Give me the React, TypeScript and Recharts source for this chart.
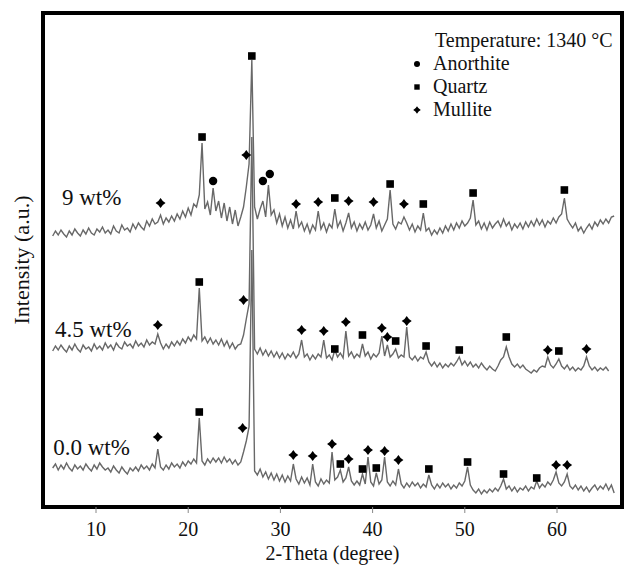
import { ComposedChart, Line, Scatter, XAxis, YAxis, ReferenceArea } from "recharts";

// 2-theta grid (degrees)
const twoTheta = [
  5.3, 5.6, 5.9, 6.2, 6.5, 6.8, 7.1, 7.4, 7.7, 8.0,
  8.3, 8.6, 8.9, 9.2, 9.5, 9.8, 10.1, 10.4, 10.7, 11.0,
  11.3, 11.6, 11.9, 12.2, 12.5, 12.8, 13.1, 13.4, 13.7, 14.0,
  14.3, 14.6, 14.9, 15.2, 15.5, 15.8, 16.1, 16.4, 16.7, 17.0,
  17.3, 17.6, 17.9, 18.2, 18.5, 18.8, 19.1, 19.4, 19.7, 20.0,
  20.3, 20.6, 20.9, 21.2, 21.5, 21.8, 22.1, 22.4, 22.7, 23.0,
  23.3, 23.6, 23.9, 24.2, 24.5, 24.8, 25.1, 25.4, 25.7, 26.0,
  26.3, 26.6, 26.9, 27.2, 27.5, 27.8, 28.1, 28.4, 28.7, 29.0,
  29.3, 29.6, 29.9, 30.2, 30.5, 30.8, 31.1, 31.4, 31.7, 32.0,
  32.3, 32.6, 32.9, 33.2, 33.5, 33.8, 34.1, 34.4, 34.7, 35.0,
  35.3, 35.6, 35.9, 36.2, 36.5, 36.8, 37.1, 37.4, 37.7, 38.0,
  38.3, 38.6, 38.9, 39.2, 39.5, 39.8, 40.1, 40.4, 40.7, 41.0,
  41.3, 41.6, 41.9, 42.2, 42.5, 42.8, 43.1, 43.4, 43.7, 44.0,
  44.3, 44.6, 44.9, 45.2, 45.5, 45.8, 46.1, 46.4, 46.7, 47.0,
  47.3, 47.6, 47.9, 48.2, 48.5, 48.8, 49.1, 49.4, 49.7, 50.0,
  50.3, 50.6, 50.9, 51.2, 51.5, 51.8, 52.1, 52.4, 52.7, 53.0,
  53.3, 53.6, 53.9, 54.2, 54.5, 54.8, 55.1, 55.4, 55.7, 56.0,
  56.3, 56.6, 56.9, 57.2, 57.5, 57.8, 58.1, 58.4, 58.7, 59.0,
  59.3, 59.6, 59.9, 60.2, 60.5, 60.8, 61.1, 61.4, 61.7, 62.0,
  62.3, 62.6, 62.9, 63.2, 63.5, 63.8, 64.1, 64.4, 64.7, 65.0,
  65.3, 65.6, 65.9, 66.2,
];

// intensity (a.u., traces stacked with offsets as in the figure)
const wt9 = [
  271, 276, 272, 277, 273, 270, 276, 272, 278, 274,
  271, 277, 273, 279, 274, 272, 278, 275, 280, 274,
  277, 273, 281, 276, 274, 282, 277, 279, 275, 283,
  278, 284, 280, 277, 286, 281, 288, 283, 285, 292,
  283, 289, 285, 291, 286, 293, 288, 296, 290, 299,
  292, 303, 300, 312, 364, 298, 305, 292, 319, 296,
  306, 289, 304, 286, 300, 283, 297, 281, 290, 300,
  320, 343, 447, 300, 288, 298, 306, 290, 322, 292,
  297, 284, 293, 281, 290, 279, 287, 278, 296, 280,
  285, 276, 283, 274, 282, 277, 296, 278, 284, 275,
  283, 279, 298, 280, 286, 276, 284, 294, 279, 285,
  276, 283, 278, 285, 277, 282, 293, 279, 286, 276,
  282, 288, 317, 283, 278, 285, 283, 290, 284, 277,
  283, 275, 281, 277, 294, 276, 279, 272, 277, 273,
  279, 274, 281, 276, 283, 277, 284, 279, 286, 281,
  284, 289, 307, 282, 286, 278, 284, 277, 285, 279,
  283, 286, 280, 288, 281, 285, 277, 283, 279, 284,
  278, 285, 280, 286, 281, 288, 282, 287, 280, 286,
  283, 289, 284, 290, 293, 309, 288, 283, 279, 284,
  276, 280, 274, 279, 283, 278, 285, 281, 287, 283,
  288, 284, 290, 291,
];

const wt45 = [
  156, 161, 157, 162, 158, 155, 161, 157, 163, 158,
  155, 162, 158, 160, 156, 163, 158, 161, 157, 164,
  159, 162, 157, 164, 160, 158, 165, 161, 163, 159,
  166, 161, 164, 160, 167, 162, 165, 163, 173, 164,
  158, 163, 159, 165, 161, 166, 162, 168, 164, 170,
  166, 172, 168, 219, 166, 170, 164, 169, 163, 167,
  162, 168, 161, 166, 159, 164, 158, 162, 163, 172,
  188, 203, 370, 158, 153, 159, 152, 157, 151, 156,
  150, 155, 149, 154, 148, 153, 150, 155, 149, 153,
  167, 150, 153, 147, 152, 148, 153, 150, 167, 149,
  152, 147, 157, 150, 154, 149, 176, 151, 155, 149,
  153, 150, 163, 151, 155, 148, 153, 150, 154, 171,
  151, 162, 150, 153, 158, 149, 152, 150, 180, 150,
  147, 151, 146, 150, 148, 155, 145, 141, 145, 140,
  144, 139, 143, 140, 144, 141, 145, 150, 142, 146,
  141, 145, 140, 143, 139, 144, 140, 137, 141, 138,
  136, 141, 147, 150, 160, 150, 143, 140, 143, 139,
  142, 138, 136, 134, 137, 135, 139, 141, 140, 150,
  142, 139, 143, 148, 141, 138, 142, 137, 140, 136,
  139, 137, 141, 150, 141, 137, 140, 136, 139, 137,
  140, 136, null, null,
];

const wt0 = [
  39, 43, 37, 42, 38, 44, 39, 36, 42, 38,
  41, 37, 43, 39, 36, 42, 38, 44, 40, 37,
  39, 35, 41, 37, 34, 40, 36, 33, 39, 36,
  40, 36, 42, 38, 41, 37, 43, 39, 58, 40,
  37, 42, 38, 44, 40, 43, 39, 45, 41, 46,
  43, 48, 44, 89, 46, 42, 48, 44, 49, 45,
  49, 44, 50, 45, 48, 43, 47, 42, 45, 55,
  66, 80, 257, 36, 32, 38, 30, 35, 28, 34,
  27, 33, 26, 32, 25, 31, 26, 43, 28, 23,
  30, 24, 29, 22, 43, 25, 21, 28, 23, 27,
  24, 55, 27, 30, 37, 25, 29, 40, 26, 22,
  26, 22, 33, 23, 50, 25, 21, 34, 23, 27,
  50, 25, 21, 26, 22, 38, 23, 19, 24, 20,
  25, 21, 24, 19, 23, 20, 32, 22, 18, 23,
  19, 24, 20, 23, 18, 22, 19, 24, 21, 26,
  40, 22, 17, 14, 18, 13, 17, 14, 18, 15,
  19, 16, 21, 28, 18, 21, 16, 20, 15, 19,
  17, 21, 16, 20, 18, 26, 19, 23, 20, 25,
  22, 27, 35, 24, 21, 25, 33, 21, 18, 22,
  17, 21, 16, 20, 15, 19, 22, 17, 21, 18,
  23, 17, 22, 14,
];

// phase markers [2theta, height]
const anorthite = [[22.7, 326], [28.1, 326], [28.85, 333]];
const quartz = [
  [21.5, 370], [26.9, 451], [35.9, 309], [41.9, 323], [45.5, 303], [50.9, 314], [60.8, 317],
  [21.2, 225], [35.9, 158], [38.9, 172], [42.5, 166], [45.8, 161], [49.4, 157], [54.5, 170], [60.2, 156],
  [21.2, 95], [36.5, 43], [38.9, 38], [40.4, 39], [46.1, 38], [50.3, 45], [54.2, 33], [57.8, 29],
];
const mullite = [
  [17.0, 304], [26.3, 352], [31.7, 303], [34.1, 305], [37.4, 306], [40.1, 305], [43.4, 303],
  [16.7, 182], [26.0, 207], [32.3, 177], [34.7, 176], [37.1, 185], [41.0, 179], [41.6, 170], [43.7, 186], [59.0, 157], [63.2, 158],
  [16.7, 70], [25.9, 79], [31.4, 52], [33.5, 51], [35.6, 63], [37.4, 48], [39.5, 57], [41.3, 56], [42.8, 47], [59.9, 42], [61.1, 42],
];

const sampleNames = ["9 wt%", "4.5 wt%", "0.0 wt%"];
const sampleLabelX = [6.3, 5.55, 5.35];
const sampleLabelY = [310, 178, 60];

const xTicks = [10, 20, 30, 40, 50, 60];
const xDomain = [4.25, 67.05];
const yDomain = [0, 494];

const FONT = "'Liberation Serif', 'Times New Roman', serif";
const TRACE = "#686868";

const rows = twoTheta.map((x, i) => ({ x, wt0: wt0[i], wt45: wt45[i], wt9: wt9[i] }));
const toPts = (arr: number[][]) => arr.map(([x, y]) => ({ x, y }));
const labelPts = sampleNames.map((text, i) => ({ x: sampleLabelX[i], y: sampleLabelY[i], text }));

const CircleMark = (p: any) => <circle cx={p.cx} cy={p.cy} r={4.2} fill="#000" />;
const SquareMark = (p: any) => (
  <rect x={p.cx - 3.8} y={p.cy - 3.8} width={7.6} height={7.6} fill="#000" />
);
const diamondPath = (cx: number, cy: number, r: number) =>
  `M${cx},${cy - r} Q${cx + r * 0.35},${cy - r * 0.35} ${cx + r},${cy} Q${cx + r * 0.35},${cy + r * 0.35} ${cx},${cy + r} Q${cx - r * 0.35},${cy + r * 0.35} ${cx - r},${cy} Q${cx - r * 0.35},${cy - r * 0.35} ${cx},${cy - r} Z`;
const DiamondMark = (p: any) => <path d={diamondPath(p.cx, p.cy, 5)} fill="#000" />;

const SampleLabel = (p: any) => (
  <text x={p.cx} y={p.cy} dominantBaseline="central" fontSize={23} fontFamily={FONT} fill="#111">
    {p.payload.text}
  </text>
);

function PhaseLegend() {
  return (
    <svg width={210} height={100} style={{ position: "absolute", left: 408, top: 26 }}>
      <g fontFamily={FONT} fontSize={20} fill="#111">
        <text x={27} y={21}>Temperature: 1340 °C</text>
        <circle cx={9} cy={38} r={3} fill="#000" />
        <text x={25} y={44}>Anorthite</text>
        <rect x={6.3} y={58.3} width={5.4} height={5.4} fill="#000" />
        <text x={25} y={67}>Quartz</text>
        <path d={diamondPath(9, 84, 3.8)} fill="#000" />
        <text x={25} y={90}>Mullite</text>
      </g>
    </svg>
  );
}

export default function App() {
  return (
    <div style={{ position: "absolute", left: 0, top: 0, width: 624, height: 572, background: "#fff" }}>
      <ComposedChart
        width={624}
        height={572}
        data={rows}
        margin={{ top: 13, right: 2, bottom: 0, left: 0 }}
      >
        <XAxis
          dataKey="x"
          type="number"
          domain={xDomain}
          allowDataOverflow
          ticks={xTicks}
          axisLine={false}
          tickLine={{ stroke: "#888" }}
          tickSize={6}
          tickMargin={9}
          height={65}
          tick={{ fill: "#111", fontSize: 20, fontFamily: FONT }}
          label={{ value: "2-Theta (degree)", position: "insideBottom", offset: 12, fill: "#111", fontSize: 20, fontFamily: FONT }}
        />
        <YAxis
          dataKey="y"
          type="number"
          domain={yDomain}
          allowDataOverflow
          tick={false}
          tickLine={false}
          axisLine={false}
          width={43}
          label={{ value: "Intensity (a.u.)", angle: -90, position: "center", fill: "#111", fontSize: 22, fontFamily: FONT }}
        />
        <Line dataKey="wt0" type="linear" stroke={TRACE} strokeWidth={1.4} dot={false} isAnimationActive={false} />
        <Line dataKey="wt45" type="linear" stroke={TRACE} strokeWidth={1.4} dot={false} isAnimationActive={false} />
        <Line dataKey="wt9" type="linear" stroke={TRACE} strokeWidth={1.4} dot={false} isAnimationActive={false} />
        <Scatter data={toPts(anorthite)} shape={CircleMark} isAnimationActive={false} />
        <Scatter data={toPts(quartz)} shape={SquareMark} isAnimationActive={false} />
        <Scatter data={toPts(mullite)} shape={DiamondMark} isAnimationActive={false} />
        <Scatter data={labelPts} shape={SampleLabel} isAnimationActive={false} />
        <ReferenceArea
          x1={xDomain[0]}
          x2={xDomain[1]}
          y1={yDomain[0]}
          y2={yDomain[1]}
          fill="none"
          stroke="#000"
          strokeWidth={4}
          ifOverflow="visible"
        />
      </ComposedChart>
      <PhaseLegend />
    </div>
  );
}
